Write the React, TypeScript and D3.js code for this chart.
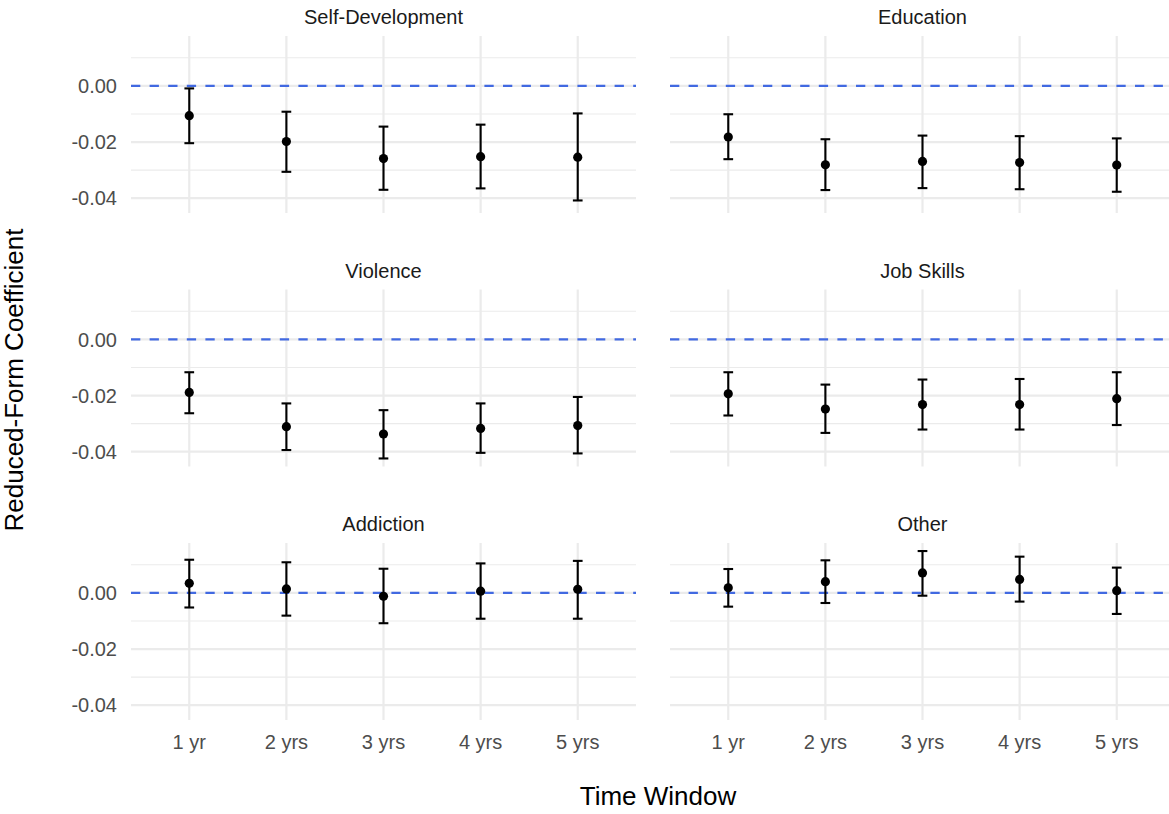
import React from "react";
import * as d3 from "d3";

const categories = ["1 yr", "2 yrs", "3 yrs", "4 yrs", "5 yrs"];
const panelNames = ["Self-Development", "Education", "Violence", "Job Skills", "Addiction", "Other"];

const selfDevEst = [-0.0106, -0.0198, -0.0259, -0.0252, -0.0254];
const selfDevLo = [-0.0204, -0.0306, -0.037, -0.0365, -0.0408];
const selfDevHi = [-0.0009, -0.0092, -0.0145, -0.0138, -0.0098];

const educationEst = [-0.0182, -0.0281, -0.0269, -0.0273, -0.0282];
const educationLo = [-0.0261, -0.0371, -0.0364, -0.0368, -0.0377];
const educationHi = [-0.0101, -0.019, -0.0177, -0.0179, -0.0187];

const violenceEst = [-0.0189, -0.0311, -0.0337, -0.0317, -0.0307];
const violenceLo = [-0.0263, -0.0394, -0.0424, -0.0404, -0.0406];
const violenceHi = [-0.0117, -0.0228, -0.0252, -0.0228, -0.0205];

const jobSkillsEst = [-0.0194, -0.0248, -0.0232, -0.0232, -0.0211];
const jobSkillsLo = [-0.0271, -0.0333, -0.0321, -0.0321, -0.0305];
const jobSkillsHi = [-0.0117, -0.0161, -0.0143, -0.0141, -0.0117];

const addictionEst = [0.0034, 0.0014, -0.0012, 0.0006, 0.0013];
const addictionLo = [-0.0052, -0.0081, -0.0108, -0.0092, -0.0092];
const addictionHi = [0.0118, 0.0109, 0.0086, 0.0105, 0.0114];

const otherEst = [0.0018, 0.004, 0.0071, 0.0048, 0.0008];
const otherLo = [-0.0049, -0.0036, -0.001, -0.0031, -0.0075];
const otherHi = [0.0085, 0.0116, 0.0149, 0.0129, 0.009];

const majorTicks = [-0.04, -0.02, 0.0];
const majorTickLabels = ["-0.04", "-0.02", "0.00"];
const minorTicks = [-0.03, -0.01, 0.01];

const panelData = [
  { est: selfDevEst, lo: selfDevLo, hi: selfDevHi },
  { est: educationEst, lo: educationLo, hi: educationHi },
  { est: violenceEst, lo: violenceLo, hi: violenceHi },
  { est: jobSkillsEst, lo: jobSkillsLo, hi: jobSkillsHi },
  { est: addictionEst, lo: addictionLo, hi: addictionHi },
  { est: otherEst, lo: otherLo, hi: otherHi },
];

const W = 1169;
const H = 814;
const panelW = 505;
const panelH = 177;
const colX = [131, 670];
const rowY = [36, 289.5, 543];
const FONT = "'Liberation Sans', Arial, Helvetica, sans-serif";

export default function App() {
  const allLo = d3.min(panelData.flatMap((p) => p.lo)) as number;
  const allHi = d3.max(panelData.flatMap((p) => p.hi)) as number;
  const pad = (allHi - allLo) * 0.05;
  const y = d3.scaleLinear().domain([allLo - pad, allHi + pad]).range([panelH, 0]);
  const x = d3.scalePoint<string>().domain(categories).range([0, panelW]).padding(0.6);
  const capHalf = x.step() * 0.05;

  return (
    <svg
      width={W}
      height={H}
      style={{ position: "absolute", left: 0, top: 0, background: "#fff" }}
      fontFamily={FONT}
    >
      <rect x={0} y={0} width={W} height={H} fill="#fff" />
      {panelNames.map((name, i) => {
        const col = i % 2;
        const row = Math.floor(i / 2);
        const px = colX[col];
        const py = rowY[row];
        const d = panelData[i];
        return (
          <g key={name} transform={`translate(${px},${py})`}>
            {minorTicks.map((t) => (
              <line key={"mi" + t} x1={0} x2={panelW} y1={y(t)} y2={y(t)} stroke="#EBEBEB" strokeWidth={1.1} />
            ))}
            {majorTicks.map((t) => (
              <line key={"ma" + t} x1={0} x2={panelW} y1={y(t)} y2={y(t)} stroke="#EBEBEB" strokeWidth={2.2} />
            ))}
            {categories.map((c) => (
              <line key={"v" + c} x1={x(c)} x2={x(c)} y1={0} y2={panelH} stroke="#EBEBEB" strokeWidth={2.2} />
            ))}
            <line
              x1={0}
              x2={panelW}
              y1={y(0)}
              y2={y(0)}
              stroke="#4169E1"
              strokeWidth={2.2}
              strokeDasharray="9.3 9.3"
            />
            {categories.map((c, j) => {
              const cx = x(c) as number;
              return (
                <g key={"e" + c}>
                  <line x1={cx} x2={cx} y1={y(d.lo[j])} y2={y(d.hi[j])} stroke="#000" strokeWidth={2.1} />
                  <line x1={cx - capHalf} x2={cx + capHalf} y1={y(d.lo[j])} y2={y(d.lo[j])} stroke="#000" strokeWidth={2.1} />
                  <line x1={cx - capHalf} x2={cx + capHalf} y1={y(d.hi[j])} y2={y(d.hi[j])} stroke="#000" strokeWidth={2.1} />
                  <circle cx={cx} cy={y(d.est[j])} r={4.6} fill="#000" />
                </g>
              );
            })}
            <text x={panelW / 2} y={-12} textAnchor="middle" fontSize={20} fill="#1A1A1A">
              {name}
            </text>
            {col === 0 &&
              majorTicks.map((t, k) => (
                <text key={"yl" + t} x={-14} y={y(t)} dy="0.36em" textAnchor="end" fontSize={20} fill="#4D4D4D">
                  {majorTickLabels[k]}
                </text>
              ))}
            {row === 2 &&
              categories.map((c) => (
                <text key={"xl" + c} x={x(c)} y={panelH + 29} textAnchor="middle" fontSize={20} fill="#4D4D4D">
                  {c}
                </text>
              ))}
          </g>
        );
      })}
      <text x={658} y={805} textAnchor="middle" fontSize={26} fill="#000">
        Time Window
      </text>
      <text transform={`translate(23,380) rotate(-90)`} textAnchor="middle" fontSize={26} fill="#000">
        Reduced-Form Coefficient
      </text>
    </svg>
  );
}
